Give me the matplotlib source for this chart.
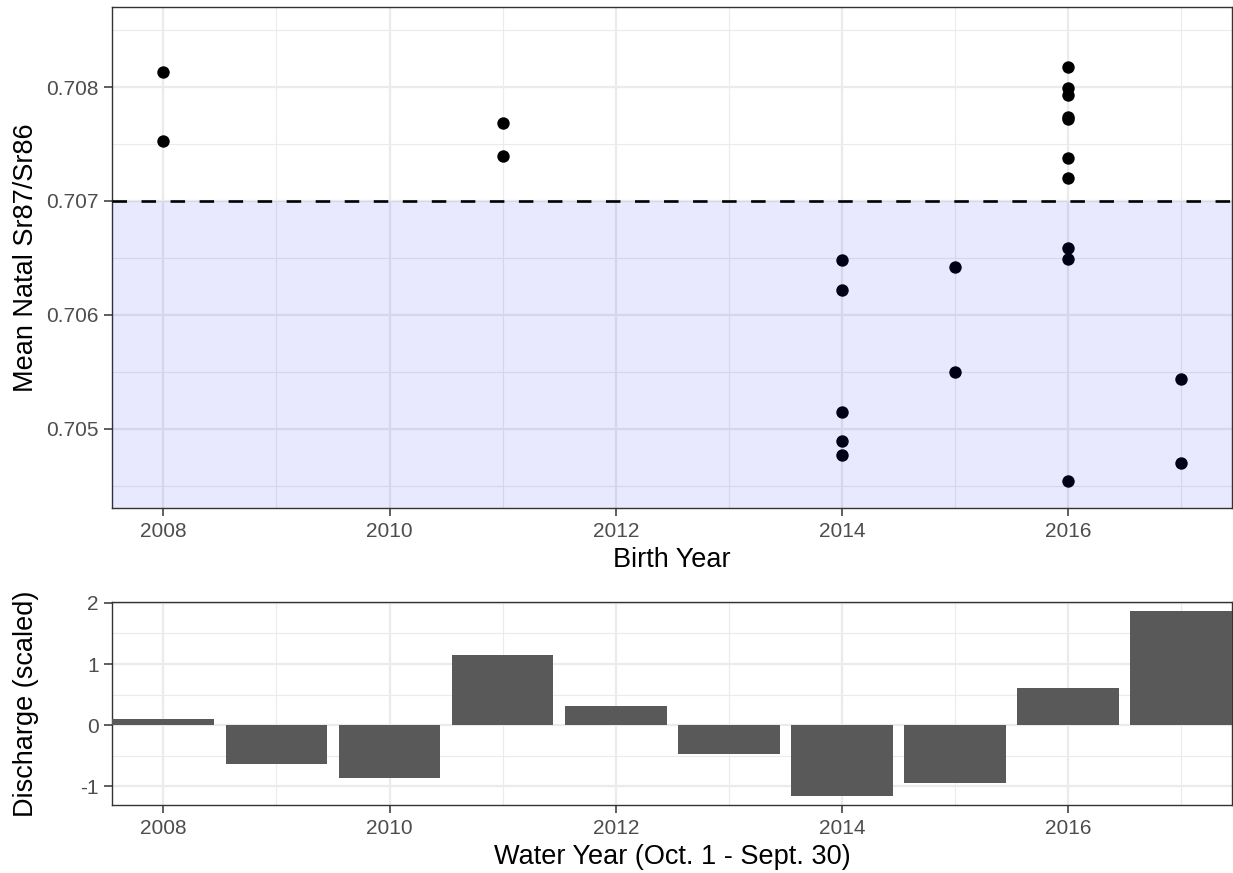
import numpy as np
import matplotlib.pyplot as plt

plt.rcParams['font.family'] = ['Liberation Sans', 'DejaVu Sans']
plt.rcParams['axes.unicode_minus'] = False

# natal Sr ratios by birth year
birth_year = [2008, 2008,
              2011, 2011,
              2014, 2014, 2014, 2014, 2014,
              2015, 2015,
              2016, 2016, 2016, 2016, 2016, 2016, 2016, 2016, 2016, 2016,
              2017, 2017]
sr_ratio = [0.70813, 0.70753,
            0.70768, 0.70739,
            0.70648, 0.70622, 0.70515, 0.70489, 0.70477,
            0.70642, 0.70550,
            0.70818, 0.70799, 0.70793, 0.70774, 0.70772, 0.70738, 0.70720, 0.70659, 0.70649, 0.70454,
            0.70544, 0.70470]

# scaled discharge by water year
water_year = [2008, 2009, 2010, 2011, 2012, 2013, 2014, 2015, 2016, 2017]
discharge = [0.10, -0.63, -0.855, 1.15, 0.32, -0.47, -1.16, -0.94, 0.615, 1.87]

threshold = 0.707
xlims = (2007.55, 2017.45)

fig = plt.figure(figsize=(12.33, 8.73), dpi=100)
ax1 = fig.add_axes([0.0912, 0.4177, 0.9080, 0.5739])
ax2 = fig.add_axes([0.0912, 0.0775, 0.9080, 0.2333])

grid_major = '#ebebeb'
tick_col = '#4d4d4d'

def style(ax):
    for s in ax.spines.values():
        s.set_color('#333333')
        s.set_linewidth(1.0)
    ax.tick_params(axis='both', colors='#333333', labelcolor=tick_col,
                   labelsize=15, length=6, width=1.1, pad=4)
    ax.grid(True, which='major', color=grid_major, linewidth=1.6, zorder=0)
    ax.grid(True, which='minor', color=grid_major, linewidth=0.8, zorder=0)
    ax.tick_params(which='minor', length=0)
    ax.set_axisbelow(True)

# top panel
ax1.scatter(birth_year, sr_ratio, s=80, color='black', zorder=3, linewidths=0)
ax1.axhspan(0.70, threshold, color='blue', alpha=0.09, linewidth=0, zorder=4)
ax1.axhline(threshold, color='black', linestyle=(0, (5.5, 5.5)), linewidth=1.9, zorder=5)
ax1.set_xlim(*xlims)
ax1.set_ylim(0.70430, 0.70870)
ax1.set_xticks([2008, 2010, 2012, 2014, 2016])
ax1.set_xticks([2009, 2011, 2013, 2015, 2017], minor=True)
ax1.set_yticks([0.705, 0.706, 0.707, 0.708])
ax1.set_yticks([0.7045, 0.7055, 0.7065, 0.7075, 0.7085], minor=True)
ax1.set_yticklabels(['0.705', '0.706', '0.707', '0.708'])
style(ax1)
ax1.set_xlabel('Birth Year', fontsize=19.5, labelpad=4)
ax1.set_ylabel('Mean Natal Sr87/Sr86', fontsize=19.5)
ax1.yaxis.set_label_coords(-0.0657, 0.5)

# bottom panel
ax2.bar(water_year, discharge, width=0.9, color='#595959', zorder=3)
ax2.set_xlim(*xlims)
ax2.set_ylim(-1.31, 2.02)
ax2.set_xticks([2008, 2010, 2012, 2014, 2016])
ax2.set_xticks([2009, 2011, 2013, 2015, 2017], minor=True)
ax2.set_yticks([-1, 0, 1, 2])
ax2.set_yticks([-0.5, 0.5, 1.5], minor=True)
style(ax2)
ax2.set_xlabel('Water Year (Oct. 1 - Sept. 30)', fontsize=19.5, labelpad=4)
ax2.set_ylabel('Discharge (scaled)', fontsize=19.5)
ax2.yaxis.set_label_coords(-0.0657, 0.5)

fig.savefig('out.png', dpi=100)
